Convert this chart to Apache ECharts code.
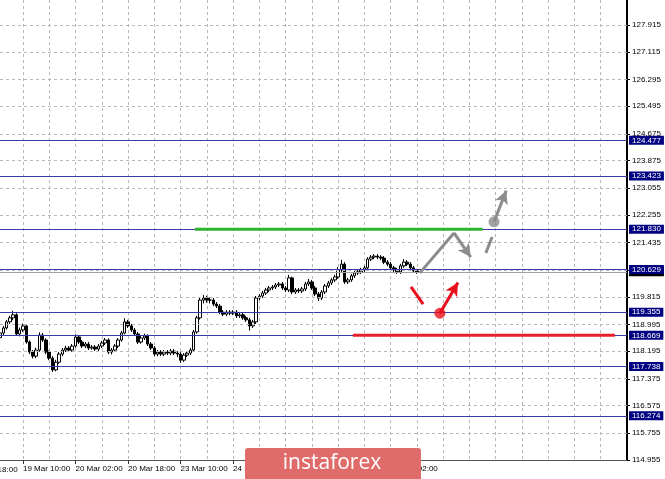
<!DOCTYPE html>
<html><head><meta charset="utf-8">
<script src="https://cdn.jsdelivr.net/npm/echarts@6/dist/echarts.min.js"></script>
<style>html,body{margin:0;padding:0;background:#fff}#c{width:665px;height:479px}</style>
</head><body><div id="c"></div>
<script>
// ---- data ----
const tickLabels = ['19 Mar 10:00','20 Mar 02:00','20 Mar 18:00','23 Mar 10:00','24 Mar 02:00','24 Mar 18:00','25 Mar 10:00','26 Mar 02:00'];
const yTicks = [114.955,115.755,116.575,117.375,118.195,118.995,119.815,120.615,121.435,122.255,123.055,123.875,124.675,125.495,126.295,127.115,127.915];
const levels = [124.477,123.423,121.830,120.629,119.355,118.669,117.738,116.274];
const lastPrice = 120.562;
// candles: [open, close, low, high]
const ohlc = [
[118.60,118.74,118.54,118.80],[118.74,118.89,118.68,118.95],[118.89,119.07,118.84,119.13],[119.07,119.19,119.01,119.25],
[119.19,119.28,119.12,119.40],[119.28,118.71,118.65,119.33],[118.71,118.83,118.64,118.90],[118.83,118.95,118.77,119.02],
[118.95,118.47,118.42,119.00],[118.47,118.17,118.11,118.52],[118.17,118.05,117.98,118.23],[118.05,118.23,117.99,118.30],
[118.23,118.68,118.18,118.76],[118.68,118.53,118.47,118.74],[118.53,118.17,118.11,118.58],[118.17,117.99,117.93,118.22],
[117.99,117.64,117.58,118.05],[117.64,117.87,117.60,117.94],[117.87,118.11,117.82,118.17],[118.11,118.23,118.05,118.29],
[118.23,118.29,118.17,118.36],[118.29,118.23,118.17,118.35],[118.23,118.35,118.18,118.41],[118.35,118.62,118.30,118.70],
[118.62,118.47,118.41,118.68],[118.47,118.35,118.29,118.53],[118.35,118.41,118.29,118.47],[118.41,118.29,118.23,118.47],
[118.29,118.32,118.24,118.38],[118.32,118.26,118.20,118.38],[118.26,118.35,118.20,118.41],[118.35,118.44,118.29,118.50],
[118.44,118.53,118.38,118.59],[118.53,118.17,118.11,118.58],[118.17,118.23,118.10,118.29],[118.23,118.35,118.17,118.41],
[118.35,118.53,118.29,118.59],[118.53,118.74,118.48,118.80],[118.74,119.07,118.70,119.18],[119.07,118.95,118.89,119.13],
[118.95,118.83,118.77,119.01],[118.83,118.71,118.65,118.89],[118.71,118.47,118.41,118.77],[118.47,118.59,118.42,118.65],
[118.59,118.65,118.53,118.72],[118.65,118.41,118.35,118.70],[118.41,118.29,118.23,118.47],[118.29,118.11,118.05,118.35],
[118.11,118.17,118.05,118.23],[118.17,118.11,118.05,118.23],[118.11,118.17,118.05,118.23],[118.17,118.14,118.08,118.23],
[118.14,118.20,118.08,118.26],[118.20,118.14,118.08,118.26],[118.14,118.11,118.02,118.20],[118.11,117.93,117.85,118.17],
[117.93,118.08,117.88,118.14],[118.08,118.14,118.02,118.20],[118.14,118.23,118.08,118.29],[118.23,118.77,118.18,118.83],
[118.77,119.19,118.72,119.25],[119.19,119.72,119.14,119.80],[119.72,119.78,119.62,119.87],[119.78,119.72,119.64,119.85],
[119.72,119.72,119.62,119.80],[119.72,119.60,119.54,119.78],[119.60,119.54,119.48,119.66],[119.54,119.36,119.30,119.60],
[119.36,119.30,119.24,119.42],[119.30,119.36,119.24,119.42],[119.36,119.33,119.27,119.42],[119.33,119.36,119.27,119.42],
[119.36,119.25,119.19,119.42],[119.25,119.28,119.19,119.34],[119.28,119.19,119.13,119.34],[119.19,119.13,119.07,119.25],
[119.13,118.95,118.81,119.19],[118.95,119.07,118.89,119.13],[119.07,119.78,119.01,119.84],[119.78,119.84,119.72,119.90],
[119.84,119.93,119.78,119.99],[119.93,120.02,119.87,120.08],[120.02,120.08,119.96,120.14],[120.08,120.11,120.02,120.17],
[120.11,120.17,120.05,120.23],[120.17,120.20,120.11,120.26],[120.20,120.08,120.02,120.26],[120.08,120.02,119.96,120.14],
[120.02,120.38,119.96,120.47],[120.38,119.96,119.90,120.42],[119.96,120.02,119.90,120.08],[120.02,119.99,119.93,120.08],
[119.99,120.05,119.93,120.11],[120.05,120.20,119.99,120.26],[120.20,120.26,120.14,120.35],[120.26,120.08,120.02,120.32],
[120.08,119.90,119.84,120.14],[119.90,119.78,119.69,119.96],[119.78,119.96,119.72,120.02],[119.96,120.14,119.90,120.20],
[120.14,120.23,120.08,120.29],[120.23,120.32,120.17,120.38],[120.32,120.41,120.26,120.47],[120.41,120.62,120.35,120.70],
[120.62,120.79,120.56,120.92],[120.79,120.26,120.20,120.85],[120.26,120.32,120.20,120.38],[120.32,120.44,120.26,120.50],
[120.44,120.53,120.38,120.59],[120.53,120.56,120.47,120.62],[120.56,120.62,120.50,120.68],[120.62,120.68,120.56,120.74],
[120.68,120.94,120.62,121.00],[120.94,121.00,120.88,121.06],[121.00,121.03,120.94,121.09],[121.03,121.00,120.94,121.09],
[121.00,120.97,120.91,121.06],[120.97,120.85,120.79,121.03],[120.85,120.79,120.73,120.91],[120.79,120.68,120.62,120.85],
[120.68,120.62,120.56,120.74],[120.62,120.56,120.50,120.68],[120.56,120.74,120.50,120.80],[120.74,120.85,120.68,120.94],
[120.85,120.79,120.73,120.91],[120.79,120.68,120.62,120.85],[120.68,120.59,120.53,120.74],[120.59,120.56,120.50,120.65]
];
// annotations in (bar index, price)
const greenLine = [[59.4,121.830],[147.0,121.830]];
const redLine = [[107.5,118.669],[187.3,118.669]];
const grayPath1 = [[127.9,120.53],[138.3,121.72]];
const grayArrow1 = [[138.3,121.72],[143.4,121.00]];
const grayDash = [[148.0,121.12],[149.9,121.60]];
const grayDot = [[150.5,122.05]];
const grayArrow2 = [[150.5,122.05],[154.2,122.98]];
const redDash = [[125.2,120.11],[128.9,119.60]];
const redDot = [[134.0,119.33]];
const redArrow = [[134.0,119.33],[139.5,120.24]];
const totalBars = 192;

// ---- categories (hourly, weekend skipped) ----
const categories = [];
{
  let t = Date.UTC(2020,2,19,3);
  const mon = ['Jan','Feb','Mar','Apr'];
  for (let i=0;i<totalBars;i++){
    const d = new Date(t);
    categories.push(d.getUTCDate()+' '+mon[d.getUTCMonth()]+' '+String(d.getUTCHours()).padStart(2,'0')+':00');
    t += 3600e3;
    if (new Date(t).getUTCDay()===6) t += 48*3600e3;
  }
}
const xMax = totalBars-1;
const fnt = 'Liberation Sans';

function seg(pts, arrow){
  return [{coord:pts[0], symbol:'none'},{coord:pts[1], symbol: arrow?'arrow':'none', symbolSize:[10,13]}];
}

const chart = echarts.init(document.getElementById('c'), null, {renderer:'canvas'});
chart.setOption({
  animation:false,
  backgroundColor:'#fff',
  grid:{left:0,right:38,top:0,bottom:19,containLabel:false},
  xAxis:[{
    type:'category', data:categories, boundaryGap:false,
    axisLine:{show:true,onZero:false,lineStyle:{color:'#555',width:1}},
    axisTick:{show:true,length:4,interval:(i,n)=>tickLabels.includes(n),lineStyle:{color:'#333'}},
    axisLabel:{interval:(i,n)=>tickLabels.includes(n),align:'left',margin:5,fontSize:8,fontFamily:fnt,color:'#000'},
    splitLine:{show:true,interval:(i)=>((i-7)%8===0),lineStyle:{color:'#b8b8b8',type:[3,3],width:1}}
  },{
    type:'value', min:0, max:xMax, show:false
  }],
  yAxis:[{
    type:'value', position:'right', min:114.955, max:128.66, scale:true,
    axisLine:{show:true,onZero:false,lineStyle:{color:'#000',width:2}},
    axisTick:{show:true,inside:false,length:3,customValues:yTicks,lineStyle:{color:'#000'}},
    axisLabel:{customValues:yTicks,margin:5,fontSize:8,fontFamily:fnt,color:'#000',formatter:v=>v.toFixed(3)},
    splitLine:{show:false}
  }],
  series:[
    {
      type:'line', xAxisIndex:1, yAxisIndex:0, data:[[0,yTicks[0]]], showSymbol:false, silent:true, z:1,
      lineStyle:{width:0},
      markLine:{silent:true, symbol:['none','none'], label:{show:false},
        lineStyle:{color:'#b8b8b8',type:[3,3],width:1},
        data: yTicks.map(v=>({yAxis:v}))}
    },
    {
      type:'candlestick', xAxisIndex:0, yAxisIndex:0, data:ohlc, barWidth:3, z:3,
      itemStyle:{color:'#ffffff',color0:'#000000',borderColor:'#000000',borderColor0:'#000000',borderWidth:1},
      markLine:{silent:true, symbol:['none','none'],
        lineStyle:{color:'#a0a0a0',type:'solid',width:1},
        label:{show:true,position:'end',distance:2,formatter:p=>p.name,backgroundColor:'#000',color:'#fff',fontSize:8,fontFamily:fnt,padding:[1,3,0,3]},
        data:[{yAxis:lastPrice,name:lastPrice.toFixed(3)}]}
    },
    {
      type:'line', xAxisIndex:1, yAxisIndex:0, data:[[0,levels[0]]], showSymbol:false, silent:true, z:4,
      lineStyle:{width:0},
      markLine:{silent:true, symbol:['none','none'],
        lineStyle:{color:'#3a3aa6',type:'solid',width:1},
        label:{show:true,position:'end',distance:2,formatter:p=>p.name,backgroundColor:'#000080',color:'#fff',fontSize:8,fontFamily:fnt,padding:[1,3,0,3]},
        data: levels.map(v=>({yAxis:v,name:v.toFixed(3)}))}
    },
    {type:'line', xAxisIndex:1, data:greenLine, showSymbol:false, silent:true, z:5, lineStyle:{color:'#2db52d',width:3}},
    {type:'line', xAxisIndex:1, data:redLine, showSymbol:false, silent:true, z:5, lineStyle:{color:'#e8202a',width:3}},
    {
      type:'scatter', xAxisIndex:1, data:grayDot, symbolSize:11, z:6, silent:true, itemStyle:{color:'#8c8c8c'},
      markLine:{silent:true, label:{show:false}, lineStyle:{color:'#8c8c8c',width:3,type:'solid'},
        data:[seg(grayPath1,false),seg(grayArrow1,true),seg(grayDash,false),seg(grayArrow2,true)]}
    },
    {
      type:'scatter', xAxisIndex:1, data:redDot, symbolSize:11, z:6, silent:true, itemStyle:{color:'#e8101c'},
      markLine:{silent:true, label:{show:false}, lineStyle:{color:'#e8101c',width:3,type:'solid'},
        data:[seg(redDash,false),seg(redArrow,true)]}
    }
  ],
  graphic:[
    {type:'text', z:10, style:{text:'18 Mar 18:00', x:23-16*627/xMax, y:470, fill:'#000', fontSize:8, fontFamily:fnt, align:'left', verticalAlign:'middle'}},
    {type:'group', zlevel:5, z:100, children:[
      {type:'rect', zlevel:5, shape:{x:245,y:448,width:176,height:40,r:3}, style:{fill:'#e06b6b'}},
      {type:'text', zlevel:5, style:{text:'instaforex', x:332, y:463, fill:'#fff', fontSize:21, fontFamily:'Open Sans', align:'center', verticalAlign:'middle'}}
    ]}
  ]
});
</script></body></html>
